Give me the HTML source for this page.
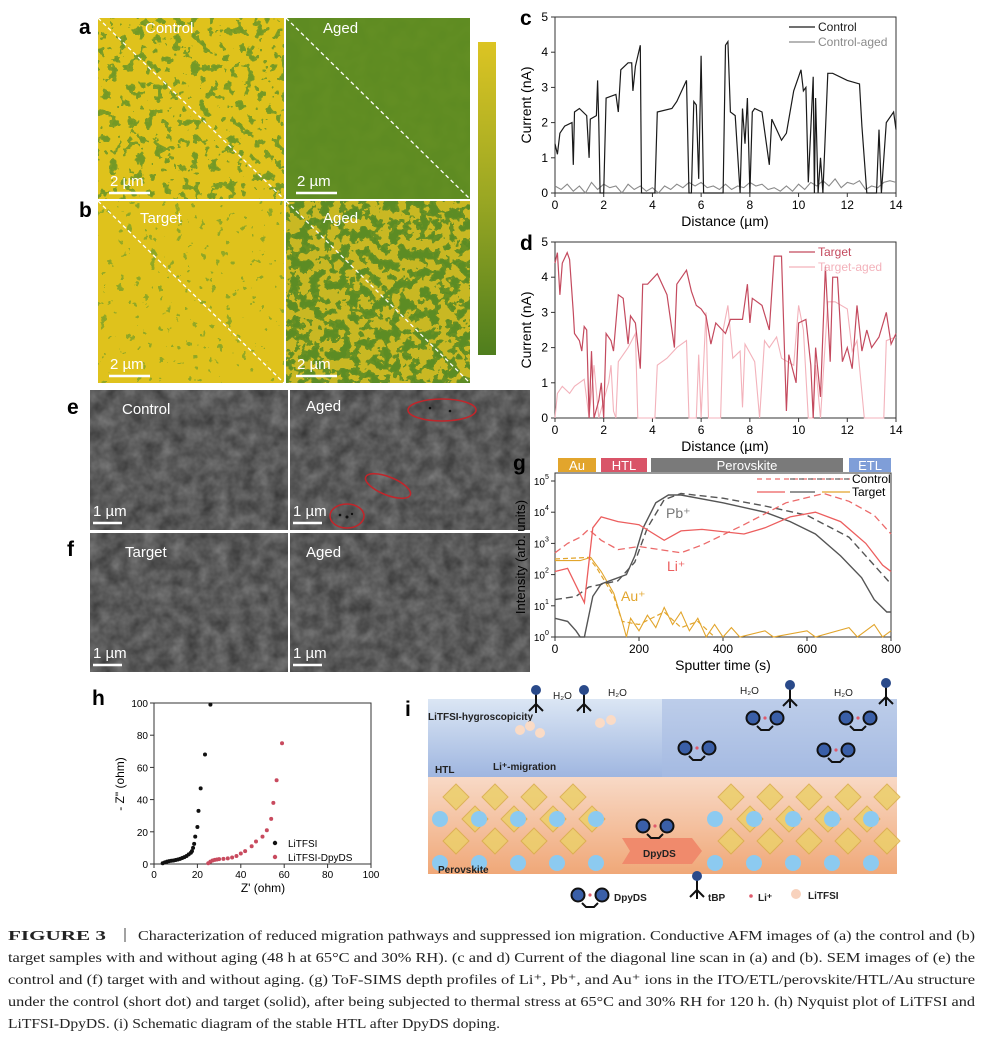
<!DOCTYPE html>
<html><head><meta charset="utf-8"><style>
body{margin:0;background:#fff;}
svg{display:block;font-family:"Liberation Sans",sans-serif;}
filter{color-interpolation-filters:sRGB;}
</style></head><body>
<svg id="fig" width="982" height="1043" viewBox="0 0 982 1043" xmlns="http://www.w3.org/2000/svg">
<defs>
 <filter id="pg25" x="0" y="0" width="100%" height="100%" color-interpolation-filters="sRGB">
  <feTurbulence type="fractalNoise" baseFrequency="0.11" numOctaves="3" seed="3"/>
  <feColorMatrix type="matrix" values="0 0 0 0 0.45  0 0 0 0 0.6  0 0 0 0 0.15  1 0 0 0 0"/>
  <feComponentTransfer><feFuncA type="discrete" tableValues="0 0 0 0 0 0 0.9 1 1 1"/></feComponentTransfer>
 </filter>
 <filter id="pg15" x="0" y="0" width="100%" height="100%" color-interpolation-filters="sRGB">
  <feTurbulence type="fractalNoise" baseFrequency="0.12" numOctaves="3" seed="9"/>
  <feColorMatrix type="matrix" values="0 0 0 0 0.55  0 0 0 0 0.65  0 0 0 0 0.15  1 0 0 0 0"/>
  <feComponentTransfer><feFuncA type="discrete" tableValues="0 0 0 0 0 0 0 0.9 1 1"/></feComponentTransfer>
 </filter>
 <filter id="pg50" x="0" y="0" width="100%" height="100%" color-interpolation-filters="sRGB">
  <feTurbulence type="fractalNoise" baseFrequency="0.1" numOctaves="3" seed="5"/>
  <feColorMatrix type="matrix" values="0 0 0 0 0.36  0 0 0 0 0.55  0 0 0 0 0.14  1 0 0 0 0"/>
  <feComponentTransfer><feFuncA type="discrete" tableValues="0 0 0 0 0 0.9 1 1 1 1"/></feComponentTransfer>
 </filter>
 <filter id="pgAged" x="0" y="0" width="100%" height="100%" color-interpolation-filters="sRGB">
  <feTurbulence type="fractalNoise" baseFrequency="0.06" numOctaves="2" seed="2"/>
  <feColorMatrix type="matrix" values="0 0 0 0 0.45  0 0 0 0 0.6  0 0 0 0 0.15  0.5 0 0 0 -0.15"/>
 </filter>
 <filter id="sem" x="0" y="0" width="100%" height="100%" color-interpolation-filters="sRGB">
  <feTurbulence type="fractalNoise" baseFrequency="0.07" numOctaves="3" seed="4"/>
  <feColorMatrix type="matrix" values="0.3 0 0 0 0.2  0.3 0 0 0 0.2  0.3 0 0 0 0.2  0 0 0 0 1"/>
 </filter>
 <linearGradient id="cbar" x1="0" y1="0" x2="0" y2="1">
  <stop offset="0" stop-color="#dcc423"/><stop offset="0.5" stop-color="#9aa723"/><stop offset="1" stop-color="#4f7e1e"/>
 </linearGradient>
 <linearGradient id="blueband" x1="0" y1="0" x2="0" y2="1">
  <stop offset="0" stop-color="#dbe6f4"/><stop offset="1" stop-color="#9fb6e0"/>
 </linearGradient>
 <linearGradient id="orband" x1="0" y1="0" x2="0" y2="1">
  <stop offset="0" stop-color="#f8d9c6"/><stop offset="1" stop-color="#f0a878"/>
 </linearGradient>
</defs>

<!-- AFM panels -->
<g>
 <rect x="98" y="18" width="186" height="181" fill="#dfc21c"/>
 <rect x="98" y="18" width="186" height="181" filter="url(#pg25)"/>
 <rect x="286" y="18" width="184" height="181" fill="#5e8b22"/>
 <rect x="286" y="18" width="184" height="181" filter="url(#pgAged)"/>
 <rect x="98" y="201" width="186" height="182" fill="#dfc21c"/>
 <rect x="98" y="201" width="186" height="182" filter="url(#pg15)"/>
 <rect x="286" y="201" width="184" height="182" fill="#c9b823"/>
 <rect x="286" y="201" width="184" height="182" filter="url(#pg50)"/>
 <g stroke="#fff" stroke-width="1.3" stroke-dasharray="4,3" fill="none">
  <line x1="98" y1="18" x2="284" y2="199"/><line x1="286" y1="18" x2="470" y2="199"/>
  <line x1="98" y1="201" x2="284" y2="383"/><line x1="286" y1="201" x2="470" y2="383"/>
 </g>
 <g fill="#fff" font-size="15">
  <text x="145" y="33">Control</text><text x="323" y="33">Aged</text>
  <text x="140" y="223">Target</text><text x="323" y="223">Aged</text>
  <text x="110" y="186">2 µm</text><text x="297" y="186">2 µm</text>
  <text x="110" y="369">2 µm</text><text x="297" y="369">2 µm</text>
 </g>
 <g stroke="#fff" stroke-width="2.5"><line x1="109" y1="193" x2="150" y2="193"/><line x1="296" y1="193" x2="337" y2="193"/><line x1="109" y1="376" x2="150" y2="376"/><line x1="296" y1="376" x2="337" y2="376"/></g>
 <rect x="478" y="42" width="18" height="313" fill="url(#cbar)"/>
 <text x="79" y="34" font-size="21" font-weight="bold">a</text>
 <text x="79" y="217" font-size="21" font-weight="bold">b</text>
</g>

<!-- SEM panels -->
<g>
 <rect x="90" y="390" width="198" height="140" filter="url(#sem)"/>
 <rect x="290" y="390" width="240" height="140" filter="url(#sem)"/>
 <rect x="90" y="533" width="198" height="139" filter="url(#sem)"/>
 <rect x="290" y="533" width="240" height="139" filter="url(#sem)"/>
 <g fill="#fff" font-size="15">
  <text x="122" y="414">Control</text><text x="306" y="411">Aged</text>
  <text x="125" y="557">Target</text><text x="306" y="557">Aged</text>
  <text x="93" y="516">1 µm</text><text x="293" y="516">1 µm</text>
  <text x="93" y="658">1 µm</text><text x="293" y="658">1 µm</text>
 </g>
 <g stroke="#fff" stroke-width="2.5"><line x1="93" y1="523" x2="122" y2="523"/><line x1="293" y1="523" x2="322" y2="523"/><line x1="93" y1="665" x2="122" y2="665"/><line x1="293" y1="665" x2="322" y2="665"/></g>
 <g fill="none" stroke="#c0262b" stroke-width="1.6">
  <ellipse cx="442" cy="410" rx="34" ry="11"/>
  <ellipse cx="388" cy="486" rx="24" ry="9" transform="rotate(22 388 486)"/>
  <ellipse cx="347" cy="516" rx="17" ry="12"/>
 </g>
 <g fill="#111"><circle cx="430" cy="408" r="1.3"/><circle cx="450" cy="411" r="1.3"/><circle cx="340" cy="515" r="1.3"/><circle cx="347" cy="517" r="1.5"/><circle cx="352" cy="514" r="1.2"/></g>
 <text x="67" y="414" font-size="21" font-weight="bold">e</text>
 <text x="67" y="556" font-size="21" font-weight="bold">f</text>
</g>

<g id="panelC"></g>
<g id="panelD"></g>
<g id="panelG"></g>
<g id="panelH"></g>

<!-- Panel i schematic -->
<g>
 <text x="405" y="716" font-size="21" font-weight="bold">i</text>
 <rect x="428" y="699" width="469" height="78" fill="url(#blueband)"/>
 <rect x="662" y="699" width="235" height="78" fill="#a8bde3" opacity="0.6"/>
 <rect x="428" y="777" width="469" height="97" fill="url(#orband)"/>
 <g id="lattice" fill="#eccf6a" stroke="#d9ae4a" stroke-width="1" opacity="0.85"></g>
 <g id="ions"></g>
 <g fill="#222" font-size="10" font-weight="bold">
  <text x="428" y="720">LiTFSI-hygroscopicity</text>
  <text x="435" y="773">HTL</text>
  <text x="493" y="770">Li⁺-migration</text>
  <text x="438" y="873">Perovskite</text>
 </g>
 <g font-size="10" fill="#222"><text x="553" y="699">H₂O</text><text x="608" y="696">H₂O</text><text x="740" y="694">H₂O</text><text x="834" y="696">H₂O</text></g>
 <polygon points="622,838 692,838 702,851 692,864 622,864 630,851" fill="#f08a6c"/>
 <text x="643" y="857" font-size="10" font-weight="bold" fill="#222">DpyDS</text>
 <g font-size="10" font-weight="bold" fill="#222">
  <text x="614" y="901">DpyDS</text><text x="708" y="901">tBP</text><text x="758" y="901">Li⁺</text><text x="808" y="899">LiTFSI</text>
 </g>
 <circle cx="751" cy="896" r="1.8" fill="#e05a6c"/><circle cx="796" cy="894" r="5" fill="#f8d2bd"/>
 <g fill="#fadbc6"><circle cx="520" cy="730" r="5"/><circle cx="530" cy="726" r="5"/><circle cx="540" cy="733" r="5"/><circle cx="600" cy="723" r="5"/><circle cx="611" cy="720" r="5"/></g>
 <g id="molecules"></g>
</g>

<g id="caption" font-family="Liberation Serif, serif" font-size="14" fill="#222"></g>

<script>
const NS="http://www.w3.org/2000/svg";
function mk(parent,tag,attrs,text){const e=document.createElementNS(NS,tag);for(const k in attrs)e.setAttribute(k,attrs[k]);if(text!==undefined)e.textContent=text;parent.appendChild(e);return e;}

// ---------- Panel c data ----------
const controlLine=[[0,1.4],[0.1,1.1],[0.2,1.7],[0.4,1.9],[0.7,2.0],[0.75,0.8],[0.8,2.3],[1.0,2.4],[1.3,2.2],[1.4,1.0],[1.45,2.1],[1.7,2.2],[1.75,3.2],[1.8,2.0],[1.85,0],[2.0,0],[2.1,2.7],[2.5,2.8],[2.6,2.3],[2.7,3.5],[3.0,3.7],[3.15,3.7],[3.2,2.9],[3.3,3.6],[3.5,4.2],[3.55,0],[4.1,0],[4.2,2.3],[4.8,2.4],[5.0,2.6],[5.4,3.2],[5.5,0],[5.6,0],[5.7,2.6],[5.8,2.5],[5.9,0.4],[6.0,3.9],[6.1,0],[6.4,0],[6.9,0],[7.0,4.2],[7.1,4.3],[7.2,2.3],[7.4,2.2],[7.6,0],[7.7,2.4],[7.8,1.4],[7.9,2.7],[8.0,0],[8.1,2.3],[8.2,2.4],[8.5,2.3],[8.8,0.8],[8.9,2.1],[9.3,1.5],[9.5,1.7],[9.8,2.9],[10.1,3.5],[10.2,2.9],[10.3,3.0],[10.4,0.3],[10.6,3.3],[10.65,0],[10.7,2.7],[10.8,0],[10.9,1.0],[11.0,0],[11.2,3.4],[11.4,3.4],[12.0,3.2],[12.5,3.1],[12.6,1.9],[12.8,0],[13.2,0],[13.3,1.8],[13.4,0],[13.6,2.0],[13.9,2.3],[14,1.8]];
const controlAgedLine=[[0,0.2],[0.25,0.1],[0.5,0.25],[0.75,0.05],[1.0,0.2],[1.25,0.0],[1.5,0.3],[1.75,0.1],[2.0,0.25],[2.25,0.15],[2.5,0.2],[2.75,0.0],[3.0,0.25],[3.25,0.1],[3.5,0.2],[3.75,0.05],[4.0,0.15],[4.25,0.0],[4.5,0.2],[4.75,0.1],[5.0,0.25],[5.25,0.15],[5.5,0.3],[5.75,0.2],[6.0,0.3],[6.25,0.15],[6.5,0.2],[6.75,0.1],[7.0,0.25],[7.25,0.1],[7.5,0.2],[7.75,0.15],[8.0,0.3],[8.25,0.2],[8.5,0.25],[8.75,0.1],[9.0,0.15],[9.25,0.05],[9.5,0.2],[9.75,0.05],[10.0,0.25],[10.25,0.1],[10.5,0.3],[10.75,0.2],[11.0,0.35],[11.25,0.2],[11.5,0.4],[11.75,0.15],[12.0,0.3],[12.25,0.25],[12.5,0.35],[12.75,0.1],[13.0,0.2],[13.25,0.15],[13.5,0.3],[13.75,0.35],[14,0.3]];
// ---------- Panel d data ----------
const targetLine=[[0,4.4],[0.1,4.7],[0.2,3.5],[0.3,4.4],[0.5,4.7],[0.6,4.5],[0.75,3.0],[0.8,2.4],[1.0,2.2],[1.1,1.9],[1.2,2.6],[1.3,2.5],[1.4,0],[1.5,1.9],[1.6,0],[1.8,0.5],[1.9,1.0],[2.0,0],[2.1,2.4],[2.3,2.2],[2.4,1.9],[2.6,3.5],[2.8,3.4],[3.0,2.1],[3.1,2.9],[3.3,2.7],[3.5,1.4],[3.6,3.8],[3.8,3.8],[4.2,4.1],[4.6,3.5],[4.9,2.0],[5.0,3.8],[5.4,4.2],[5.6,3.6],[5.8,3.2],[6.0,3.1],[6.2,2.9],[6.4,2.1],[6.6,2.7],[7.0,2.4],[7.2,2.8],[7.7,2.8],[7.9,3.8],[8.0,2.7],[8.1,3.4],[8.5,3.2],[8.8,2.5],[9.0,4.6],[9.3,4.6],[9.5,0.2],[9.6,1.8],[9.9,1.0],[10.0,2.7],[10.3,2.8],[10.5,1.5],[10.6,0],[10.7,2.0],[10.9,0.6],[11.1,4.3],[11.3,1.6],[11.4,4.0],[11.6,4.0],[11.8,1.6],[12.0,2.0],[12.2,1.4],[12.4,3.2],[12.6,1.9],[12.8,2.5],[13.0,2.0],[13.3,2.3],[13.6,3.0],[13.8,2.1],[14,2.4]];
const targetAgedLine=[[0,0],[0.1,0.7],[0.3,0.9],[0.6,0.7],[0.8,0.9],[1.2,1.1],[1.4,0],[1.6,1.5],[1.8,0],[2.2,1.0],[2.3,1.5],[2.4,0.2],[2.5,0],[2.6,1.6],[3.0,2.0],[3.3,2.4],[3.4,0],[4.1,0],[4.2,1.5],[4.6,1.7],[5.0,2.0],[5.4,2.2],[5.5,0],[5.8,0],[5.9,1.8],[6.0,0],[6.2,3.0],[6.3,0],[6.8,0],[6.9,2.5],[7.1,3.2],[7.3,1.7],[7.6,1.9],[7.7,0.3],[7.8,2.1],[8.2,1.6],[8.4,0],[8.6,2.2],[8.8,2.0],[9.1,2.3],[9.3,1.7],[9.8,1.5],[10.0,3.2],[10.2,2.5],[10.4,0],[10.6,0],[10.7,1.5],[10.9,0],[11.2,3.3],[11.5,3.3],[12.0,3.1],[12.2,1.9],[12.4,2.2],[12.7,0],[13.5,0],[13.6,2.2],[14,2.3]];
const distTicks=[0,2,4,6,8,10,12,14];
const currTicks=[0,1,2,3,4,5];

// ---------- Panel g data (log10 intensity) ----------
const pbTarget=[[0,0.6],[30,0.5],[50,0.2],[60,0],[70,0],[90,1.3],[110,1.7],[140,1.85],[170,2.0],[190,2.6],[210,3.5],[240,4.3],[270,4.55],[300,4.55],[400,4.3],[500,4.0],[560,3.7],[620,3.3],[680,2.6],[730,1.9],[760,1.2],[790,0.8],[800,0.8]];
const pbControl=[[0,1.2],[50,1.3],[80,1.6],[150,1.8],[190,2.4],[220,3.5],[260,4.4],[300,4.6],[400,4.45],[500,4.2],[600,3.9],[700,3.2],[800,1.7]];
const liTarget=[[0,2.1],[30,2.2],[70,1.1],[90,3.5],[110,3.85],[150,3.7],[200,3.6],[260,3.1],[300,3.4],[350,3.45],[450,3.3],[500,3.5],[560,3.85],[620,4.0],[680,3.7],[740,3.0],[780,2.3],[800,2.1]];
const liControl=[[0,2.7],[30,3.0],[60,3.2],[80,3.45],[110,3.1],[150,2.8],[200,2.9],[300,2.7],[350,2.95],[450,3.6],[550,4.3],[640,4.6],[700,4.35],[760,3.9],[800,3.3]];
const auTarget=[[0,2.45],[60,2.45],[85,2.55],[110,2.1],[140,1.4],[160,0.5],[170,0],[180,0.6],[200,0.2],[220,0.7],[240,0.3],[260,0.95],[280,0.4],[300,0.8],[320,0.2],[340,0.6],[360,0],[380,0.4],[400,0],[420,0.3],[440,0],[500,0.2],[520,0],[600,0.2],[620,0],[700,0.3],[720,0],[760,0.4],[780,0],[800,0.2]];
const auControl=[[0,2.5],[80,2.55],[100,2.2],[140,1.3],[160,0.5],[200,0.4],[260,0.8],[300,0.3],[340,0.5],[380,0]];
const timeTicks=[0,200,400,600,800];
const logTicks=[0,1,2,3,4,5];

// ---------- Panel h data ----------
const litfsiZ=[[4,0.5],[5,1],[6,1.5],[7,1.8],[8,2],[9,2.2],[10,2.5],[11,2.8],[12,3.2],[13,3.7],[14,4.3],[15,5],[16,6],[17,7],[17.5,8],[18,10],[18.5,12.5],[19,17],[20,23],[20.5,33],[21.5,47],[23.5,68],[26,99]];
const dpydsZ=[[25,0.5],[26,1.5],[27,2.2],[28,2.6],[29,2.8],[30,3],[32,3.2],[34,3.5],[36,4],[38,5],[40,6.5],[42,8],[45,11],[47,14],[50,17],[52,21],[54,28],[55,38],[56.5,52],[59,75]];
const zTicks=[0,20,40,60,80,100];

function axes(g,x0,x1,y0,y1){
  mk(g,'rect',{x:x0,y:y1,width:x1-x0,height:y0-y1,fill:'none',stroke:'#333','stroke-width':1});
}
function linePath(g,data,sx,sy,attrs,name){
  const d=data.map((p,i)=>(i?'L':'M')+sx(p[0]).toFixed(1)+','+sy(p[1]).toFixed(1)).join('');
  const p=mk(g,'path',Object.assign({d:d,fill:'none'},attrs));
  
  
  return p;
}

function currentPanel(gid,top,label,s1,s2,c1,c2,n1,n2){
  const g=document.getElementById(gid);
  const x0=555,x1=896,y0=top+176,y1=top;
  const sx=v=>x0+(x1-x0)*v/14, sy=v=>y0-(y0-y1)*v/5;
  axes(g,x0,x1,y0,y1);
  distTicks.forEach(t=>{mk(g,'line',{x1:sx(t),x2:sx(t),y1:y0,y2:y0+4,stroke:'#333'});const tx=mk(g,'text',{x:sx(t),y:y0+16,'font-size':12,'text-anchor':'middle'},t);});
  currTicks.forEach(t=>{mk(g,'line',{x1:x0-4,x2:x0,y1:sy(t),y2:sy(t),stroke:'#333'});const ty=mk(g,'text',{x:x0-7,y:sy(t)+4,'font-size':12,'text-anchor':'end'},t);});
  linePath(g,s2,sx,sy,{stroke:c2,'stroke-width':1.1},n2+'-line');
  linePath(g,s1,sx,sy,{stroke:c1,'stroke-width':1.2},n1+'-line');
  const xt=mk(g,'text',{x:725,y:y0+33,'font-size':14,'text-anchor':'middle'},'Distance (µm)');
  
  const yt=mk(g,'text',{x:0,y:0,'font-size':14,'text-anchor':'middle',transform:`translate(531,${(y0+y1)/2}) rotate(-90)`},'Current (nA)');
  
  const lb=mk(g,'text',{x:520,y:top+8,'font-size':21,'font-weight':'bold'},label);
  
  [[n1,c1,10],[n2,c2,25]].forEach(([n,c,dy])=>{
    const le=mk(g,'g',{});
    mk(le,'line',{x1:789,x2:815,y1:top+dy,y2:top+dy,stroke:c,'stroke-width':1.3});
    mk(le,'text',{x:818,y:top+dy+4,'font-size':12,fill:c},n);
  });
}
currentPanel('panelC',17,'c',controlLine,controlAgedLine,'#1a1a1a','#8a8a8a','Control','Control-aged');
currentPanel('panelD',242,'d',targetLine,targetAgedLine,'#c44a5e','#f3b2bb','Target','Target-aged');

// Panel g
(function(){
  const g=document.getElementById('panelG');
  const x0=555,x1=891,y0=637,y1=473;
  const sx=v=>x0+(x1-x0)*v/800, sy=v=>y0-31.2*v;
  axes(g,x0,x1,y0,y1);
  const bars=[['Au',558,596,'#e2a52c'],['HTL',601,647,'#d95468'],['Perovskite',651,843,'#7a7a7a'],['ETL',849,891,'#7f9ed8']];
  bars.forEach(b=>{const r=mk(g,'rect',{x:b[1],y:458,width:b[2]-b[1],height:14,fill:b[3]});mk(g,'text',{x:(b[1]+b[2])/2,y:470,'font-size':13,fill:'#fff','text-anchor':'middle'},b[0]);});
  timeTicks.forEach(t=>{mk(g,'line',{x1:sx(t),x2:sx(t),y1:y0,y2:y0+4,stroke:'#333'});const tx=mk(g,'text',{x:sx(t),y:y0+16,'font-size':12,'text-anchor':'middle'},t);});
  logTicks.forEach(t=>{mk(g,'line',{x1:x0-4,x2:x0,y1:sy(t),y2:sy(t),stroke:'#333'});const ty=mk(g,'text',{x:x0-10,y:sy(t)+4,'font-size':10,'text-anchor':'end'},'10');mk(g,'text',{x:x0-10,y:sy(t)-2,'font-size':7},t);});
  linePath(g,auControl,sx,sy,{stroke:'#e2a52c','stroke-width':1.2,'stroke-dasharray':'5,3'},'au-control');
  linePath(g,auTarget,sx,sy,{stroke:'#e2a52c','stroke-width':1.1},'au-target');
  linePath(g,pbControl,sx,sy,{stroke:'#555','stroke-width':1.4,'stroke-dasharray':'7,4'},'pb-control');
  linePath(g,pbTarget,sx,sy,{stroke:'#555','stroke-width':1.4},'pb-target');
  linePath(g,liControl,sx,sy,{stroke:'#ec6a6a','stroke-width':1.3,'stroke-dasharray':'7,4'},'li-control');
  linePath(g,liTarget,sx,sy,{stroke:'#ec5e5e','stroke-width':1.3},'li-target');
  const le1=mk(g,'g',{});
  mk(le1,'line',{x1:757,x2:850,y1:479,y2:479,stroke:'#ec6a6a','stroke-width':1.2,'stroke-dasharray':'5,4'});
  mk(le1,'line',{x1:790,x2:850,y1:479,y2:479,stroke:'#666','stroke-width':1.2,'stroke-dasharray':'5,4'});
  mk(le1,'text',{x:852,y:483,'font-size':12},'Control');
  const le2=mk(g,'g',{});
  mk(le2,'line',{x1:757,x2:785,y1:492,y2:492,stroke:'#ec5e5e','stroke-width':1.3});
  mk(le2,'line',{x1:790,x2:815,y1:492,y2:492,stroke:'#555','stroke-width':1.3});
  mk(le2,'line',{x1:822,x2:850,y1:492,y2:492,stroke:'#e2a52c','stroke-width':1.3});
  mk(le2,'text',{x:852,y:496,'font-size':12},'Target');
  mk(g,'text',{x:666,y:518,'font-size':14,fill:'#777'},'Pb⁺');
  mk(g,'text',{x:667,y:571,'font-size':14,fill:'#ec5e5e'},'Li⁺');
  mk(g,'text',{x:621,y:601,'font-size':14,fill:'#e2a52c'},'Au⁺');
  const xt=mk(g,'text',{x:723,y:670,'font-size':14,'text-anchor':'middle'},'Sputter time (s)');
  const yt=mk(g,'text',{x:0,y:0,'font-size':13,'text-anchor':'middle',transform:'translate(525,557) rotate(-90)'},'Intensity (arb. units)');
  mk(g,'text',{x:513,y:470,'font-size':21,'font-weight':'bold'},'g');
})();

// Panel h
(function(){
  const g=document.getElementById('panelH');
  const x0=154,x1=371,y0=864,y1=703;
  const sx=v=>x0+(x1-x0)*v/100, sy=v=>y0-(y0-y1)*v/100;
  axes(g,x0,x1,y0,y1);
  zTicks.forEach(t=>{mk(g,'line',{x1:sx(t),x2:sx(t),y1:y0,y2:y0+4,stroke:'#333'});const tx=mk(g,'text',{x:sx(t),y:y0+14,'font-size':10,'text-anchor':'middle'},t);
    mk(g,'line',{x1:x0-4,x2:x0,y1:sy(t),y2:sy(t),stroke:'#333'});const ty=mk(g,'text',{x:x0-6,y:sy(t)+4,'font-size':10,'text-anchor':'end'},t);});
  litfsiZ.forEach(p=>{const c=mk(g,'circle',{cx:sx(p[0]),cy:sy(p[1]),r:2,fill:'#111'});});
  dpydsZ.forEach(p=>{const c=mk(g,'circle',{cx:sx(p[0]),cy:sy(p[1]),r:2,fill:'#c84a5e'});});
  mk(g,'circle',{cx:275,cy:843,r:2.2,fill:'#111'});mk(g,'text',{x:288,y:847,'font-size':10},'LiTFSI');
  mk(g,'circle',{cx:275,cy:857,r:2.2,fill:'#c84a5e'});mk(g,'text',{x:288,y:861,'font-size':10},'LiTFSI-DpyDS');
  const xt=mk(g,'text',{x:263,y:892,'font-size':12,'text-anchor':'middle'},"Z' (ohm)");
  const yt=mk(g,'text',{x:0,y:0,'font-size':12,'text-anchor':'middle',transform:'translate(124,784) rotate(-90)'},'- Z" (ohm)');
  mk(g,'text',{x:92,y:705,'font-size':21,'font-weight':'bold'},'h');
})();

// Panel i lattice (decorative)
(function(){
  const L=document.getElementById('lattice');
  const I=document.getElementById('ions');
  [[437,600],[712,887]].forEach(([a,b])=>{
    for(let x=a;x<=b-10;x+=39){for(let y=797;y<=858;y+=22){
      const ox=((y-797)/22)%2?19:0;
      if(x+ox>b-10)continue;
      mk(L,'polygon',{points:`${x+ox+19},${y-13} ${x+ox+32},${y} ${x+ox+19},${y+13} ${x+ox+6},${y}`});
    }}
    for(let x=a+3;x<=b;x+=39){[819,863].forEach(y=>mk(I,'circle',{cx:x,cy:y,r:8,fill:'#8ccaf0'}));}
  });
  const M=document.getElementById('molecules');
  [[697,748],[765,718],[836,750],[858,718],[655,826],[590,895]].forEach(([x,y])=>{
    mk(M,'circle',{cx:x-12,cy:y,r:6.5,fill:'#3a5fa8',stroke:'#111','stroke-width':2});
    mk(M,'circle',{cx:x+12,cy:y,r:6.5,fill:'#3a5fa8',stroke:'#111','stroke-width':2});
    mk(M,'path',{d:`M${x-8},${y+8} L${x-4},${y+12} L${x+4},${y+12} L${x+8},${y+8}`,stroke:'#111','stroke-width':2,fill:'none'});
    mk(M,'circle',{cx:x,cy:y,r:1.6,fill:'#e05a6c'});
  });
  [[536,700],[584,700],[790,695],[886,693],[697,886]].forEach(([x,y])=>{
    mk(M,'path',{d:`M${x},${y-8} L${x},${y+4} M${x},${y+4} L${x-7},${y+11} M${x},${y+4} L${x+7},${y+11} M${x},${y+4} L${x},${y+13}`,stroke:'#111','stroke-width':2,fill:'none'});
    mk(M,'circle',{cx:x,cy:y-10,r:5,fill:'#2a4a8a'});
  });
})();

// Caption
(function(){
  const C=document.getElementById('caption');
  const lines=[
   ['Characterization of reduced migration pathways and suppressed ion migration. Conductive AFM images of (a) the control and (b)',940,true],
   ['target samples with and without aging (48 h at 65°C and 30% RH). (c and d) Current of the diagonal line scan in (a) and (b). SEM images of (e) the',962,false],
   ['control and (f) target with and without aging. (g) ToF-SIMS depth profiles of Li⁺, Pb⁺, and Au⁺ ions in the ITO/ETL/perovskite/HTL/Au structure',984,false],
   ['under the control (short dot) and target (solid), after being subjected to thermal stress at 65°C and 30% RH for 120 h. (h) Nyquist plot of LiTFSI and',1006,false],
   ['LiTFSI-DpyDS. (i) Schematic diagram of the stable HTL after DpyDS doping.',1028,false]];
  lines.forEach((l,i)=>{
    if(l[2]){
      mk(C,'text',{x:8,y:l[1],'font-weight':'bold',textLength:98,lengthAdjust:'spacingAndGlyphs'},'FIGURE 3');
      mk(C,'line',{x1:125,x2:125,y1:l[1]-12,y2:l[1]+2,stroke:'#444'});
      mk(C,'text',{x:138,y:l[1],textLength:837,lengthAdjust:'spacingAndGlyphs'},l[0]);
    } else {
      mk(C,'text',{x:8,y:l[1],textLength:i===4?492:967,lengthAdjust:'spacingAndGlyphs'},l[0]);
    }
  });
})();
</script>
</svg>
</body></html>
